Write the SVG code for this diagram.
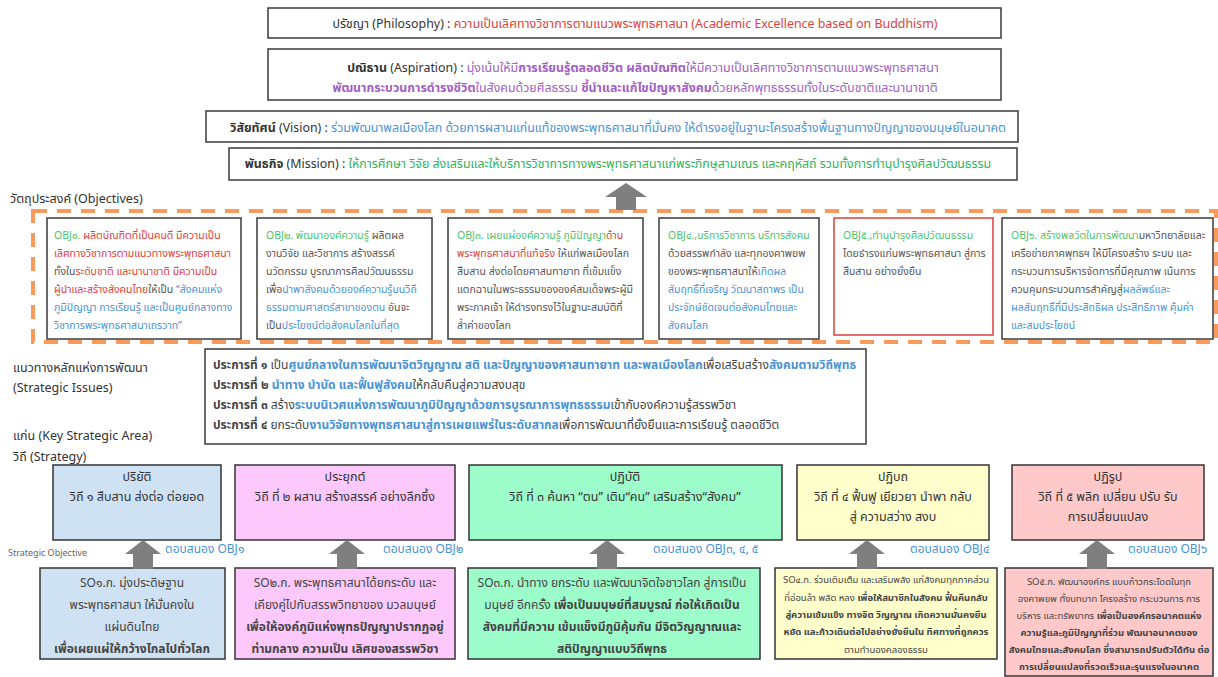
<svg xmlns="http://www.w3.org/2000/svg" xmlns:xlink="http://www.w3.org/1999/xlink" width="1218" height="677" viewBox="0 0 1218 677">
<style>
text{font-family:"Noto Sans Thai","Noto Sans Thai UI","Noto Sans","DejaVu Sans",sans-serif;}
.hd{font-size:12.4px;fill:#333}
.ob{font-size:10.5px;fill:#555}
.si{font-size:12px;fill:#444}
.lb{font-size:12.5px;fill:#333}
.st{font-size:12.5px;fill:#333}
.so{font-size:12px;fill:#444}
.sos{font-size:9.5px;fill:#444}
.bd{font-weight:bold}
.red{fill:#e2403a}
.pur{fill:#a160c4}
.blu{fill:#4a93d6}
.grn{fill:#2fb55c}
.ogr{fill:#4cc46e}
.box{fill:#fff;stroke:#3a3a3a;stroke-width:1.5}
.arr{fill:#7f7f7f}
</style>
<defs>
<path id="upA" d="M0,0 L18,14 L10,14 L10,29 L-10,29 L-10,14 L-18,14 Z"/>
<path id="upT" d="M0,0 L21,14 L10,14 L10,27 L-10,27 L-10,14 L-21,14 Z"/>
</defs>
<rect width="1218" height="677" fill="#fff"/>

<g id="philosophy">
<rect class="box" x="268" y="8" width="733" height="30"/>
<text class="hd" x="635" y="28" text-anchor="middle" font-size="12.2">ปรัชญา (Philosophy) : <tspan class="red">ความเป็นเลิศทางวิชาการตามแนวพระพุทธศาสนา (Academic Excellence  based on Buddhism)</tspan></text>
</g>

<g id="aspiration">
<rect class="box" x="268" y="49" width="733" height="51"/>
<text class="hd" x="643" y="72" text-anchor="middle" font-size="12.7"><tspan class="bd">ปณิธาน</tspan> (Aspiration) : <tspan class="pur">มุ่งเน้นให้มี</tspan><tspan class="pur bd">การเรียนรู้ตลอดชีวิต  ผลิตบัณฑิต</tspan><tspan class="pur">ให้มีความเป็นเลิศทางวิชาการตามแนวพระพุทธศาสนา</tspan></text>
<text class="hd pur" x="635" y="92" text-anchor="middle" font-size="12"><tspan class="bd">พัฒนากระบวนการดำรงชีวิต</tspan>ในสังคมด้วยศีลธรรม  <tspan class="bd">ชี้นำและแก้ไขปัญหาสังคม</tspan>ด้วยหลักพุทธธรรมทั้งในระดับชาติและนานาชาติ</text>
</g>

<g id="vision">
<rect class="box" x="206" y="111" width="812" height="31"/>
<text class="hd" x="618" y="132" text-anchor="middle"><tspan class="bd">วิสัยทัศน์</tspan> (Vision) : <tspan class="blu">ร่วมพัฒนาพลเมืองโลก ด้วยการผสานแก่นแท้ของพระพุทธศาสนาที่มั่นคง  ให้ดำรงอยู่ในฐานะโครงสร้างพื้นฐานทางปัญญาของมนุษย์ในอนาคต</tspan></text>
</g>

<g id="mission">
<rect class="box" x="229" y="148" width="788" height="32"/>
<text class="hd" x="618" y="168" text-anchor="middle" font-size="12.6"><tspan class="bd">พันธกิจ</tspan> (Mission) : <tspan class="grn">ให้การศึกษา  วิจัย  ส่งเสริมและให้บริการวิชาการทางพระพุทธศาสนาแก่พระภิกษุสามเณร  และคฤหัสถ์  รวมทั้งการทำนุบำรุงศิลปวัฒนธรรม</tspan></text>
</g>

<g id="objectives">
<text class="lb" x="10" y="203">วัตถุประสงค์ (Objectives)</text>
<rect x="33" y="211" width="1183" height="131" fill="none" stroke="#f99a5c" stroke-width="4" stroke-dasharray="14,10"/>
</g>

<g id="obj1">
<rect class="box" x="47" y="218" width="194" height="121"/>
<text class="ob" x="54" y="239"><tspan class="ogr">OBJ๑. </tspan><tspan class="red">ผลิตบัณฑิตที่เป็นคนดี มีความเป็น</tspan></text>
<text class="ob red" x="54" y="257">เลิศทางวิชาการตามแนวทางพระพุทธศาสนา</text>
<text class="ob" x="54" y="275">ทั้งใน<tspan class="red">ระดับชาติ และนานาชาติ มีความเป็น</tspan></text>
<text class="ob" x="54" y="293"><tspan class="red">ผู้นำและสร้างสังคมไทย</tspan>ให้เป็น <tspan class="blu">“สังคมแห่ง</tspan></text>
<text class="ob blu" x="54" y="311">ภูมิปัญญา การเรียนรู้ และเป็นศูนย์กลางทาง</text>
<text class="ob blu" x="54" y="329">วิชาการพระพุทธศาสนาเถรวาท”</text>
</g>

<g id="obj2">
<rect class="box" x="257" y="218" width="175" height="121"/>
<text class="ob" x="266" y="239"><tspan class="ogr">OBJ๒. พัฒนาองค์ความรู้</tspan> ผลิตผล</text>
<text class="ob" x="266" y="257">งานวิจัย และวิชาการ สร้างสรรค์</text>
<text class="ob" x="266" y="275">นวัตกรรม บูรณาการศิลปวัฒนธรรม</text>
<text class="ob" x="266" y="293">เพื่อ<tspan class="blu">นำพาสังคมด้วยองค์ความรู้บนวิถี</tspan></text>
<text class="ob" x="266" y="311"><tspan class="blu">ธรรมตามศาสตร์สาขาของตน</tspan> อันจะ</text>
<text class="ob" x="266" y="329">เป็น<tspan class="blu">ประโยชน์ต่อสังคมโลกในที่สุด</tspan></text>
</g>

<g id="obj3">
<rect class="box" x="448" y="218" width="195" height="121"/>
<text class="ob" x="457" y="239"><tspan class="ogr">OBJ๓. เผยแผ่องค์ความรู้ ภูมิปัญญา</tspan><tspan class="red">ด้าน</tspan></text>
<text class="ob" x="457" y="257"><tspan class="red">พระพุทธศาสนาที่แท้จริง</tspan> ให้แก่พลเมืองโลก</text>
<text class="ob" x="457" y="275">สืบสาน ส่งต่อโดยศาสนทายาท ที่เข้มแข็ง</text>
<text class="ob" x="457" y="293">แตกฉานในพระธรรมขององค์สมเด็จพระผู้มี</text>
<text class="ob" x="457" y="311">พระภาคเจ้า ให้ดำรงทรงไว้ในฐานะสมบัติที่</text>
<text class="ob" x="457" y="329">ล้ำค่าของโลก</text>
</g>

<g id="obj4">
<rect class="box" x="659" y="218" width="160" height="121"/>
<text class="ob ogr" x="668" y="239">OBJ๔.,บริการวิชาการ บริการสังคม</text>
<text class="ob" x="668" y="257">ด้วยสรรพกำลัง และทุกองคาพยพ</text>
<text class="ob" x="668" y="275">ของพระพุทธศาสนาให้<tspan class="blu">เกิดผล</tspan></text>
<text class="ob blu" x="668" y="293">สัมฤทธิ์ที่เจริญ วัฒนาสถาพร เป็น</text>
<text class="ob blu" x="668" y="311">ประจักษ์ชัดเจนต่อสังคมไทยและ</text>
<text class="ob blu" x="668" y="329">สังคมโลก</text>
</g>

<g id="obj5">
<rect x="834" y="218" width="159" height="117" fill="#fff" stroke="#d9403a" stroke-width="1.5"/>
<text class="ob ogr" x="843" y="239">OBJ๕.,ทำนุบำรุงศิลปวัฒนธรรม</text>
<text class="ob" x="843" y="257">โดยธำรงแก่นพระพุทธศาสนา สู่การ</text>
<text class="ob" x="843" y="275">สืบสาน อย่างยั่งยืน</text>
</g>

<g id="obj6">
<rect class="box" x="1002" y="218" width="211" height="121"/>
<text class="ob" x="1011" y="239"><tspan class="ogr">OBJ๖. สร้างพลวัตในการพัฒนา</tspan>มหาวิทยาลัยและ</text>
<text class="ob" x="1011" y="257">เครือข่ายภาคพุทธฯ ให้มีโครงสร้าง ระบบ และ</text>
<text class="ob" x="1011" y="275">กระบวนการบริหารจัดการที่มีคุณภาพ เน้นการ</text>
<text class="ob" x="1011" y="293">ควบคุมกระบวนการสำคัญสู่<tspan class="blu">ผลลัพธ์และ</tspan></text>
<text class="ob blu" x="1011" y="311">ผลสัมฤทธิ์ที่มีประสิทธิผล ประสิทธิภาพ คุ้มค่า</text>
<text class="ob blu" x="1011" y="329">และสมประโยชน์</text>
</g>

<g id="labels">
<text class="lb" x="13" y="372">แนวทางหลักแห่งการพัฒนา</text>
<text class="lb" x="13" y="392">(Strategic Issues)</text>
<text class="lb" x="13" y="440">แก่น (Key Strategic Area)</text>
<text class="lb" x="13" y="461">วิถี (Strategy)</text>
<text x="8" y="556" font-size="9" fill="#666">Strategic Objective</text>
</g>

<g id="strategic-issues">
<rect class="box" x="205" y="349" width="661" height="95" stroke="#555" stroke-width="2"/>
<text class="si" x="213" y="369"><tspan class="bd">ประการที่ ๑</tspan>  เป็น<tspan class="blu bd">ศูนย์กลางในการพัฒนาจิตวิญญาณ  สติ และปัญญาของศาสนทายาท  และพลเมืองโลก</tspan>เพื่อเสริมสร้าง<tspan class="blu bd">สังคมตามวิถีพุทธ</tspan></text>
<text class="si" x="213" y="389"><tspan class="bd">ประการที่ ๒</tspan>  <tspan class="blu bd">นำทาง  บำบัด และฟื้นฟูสังคม</tspan>ให้กลับคืนสู่ความสงบสุข</text>
<text class="si" x="213" y="409"><tspan class="bd">ประการที่ ๓</tspan>  สร้าง<tspan class="blu bd">ระบบนิเวศแห่งการพัฒนาภูมิปัญญาด้วยการบูรณาการพุทธธรรม</tspan>เข้ากับองค์ความรู้สรรพวิชา</text>
<text class="si" x="213" y="429"><tspan class="bd">ประการที่ ๔</tspan>  ยกระดับ<tspan class="blu bd">งานวิจัยทางพุทธศาสนาสู่การเผยแพร่ในระดับสากล</tspan>เพื่อการพัฒนาที่ยั่งยืนและการเรียนรู้  ตลอดชีวิต</text>
</g>

<g id="strategy1">
<rect x="53" y="465" width="168" height="75" fill="#cfe2f3" stroke="#333" stroke-width="1.5"/>
<text class="st" x="137" y="481" text-anchor="middle">ปริยัติ</text>
<text class="st" x="137" y="501" text-anchor="middle">วิถี ๑ สืบสาน ส่งต่อ ต่อยอด</text>
</g>
<g id="strategy2">
<rect x="235" y="465" width="220" height="75" fill="#fdc9fd" stroke="#333" stroke-width="1.5"/>
<text class="st" x="345" y="481" text-anchor="middle">ประยุกต์</text>
<text class="st" x="345" y="501" text-anchor="middle">วิถี ที่ ๒ ผสาน  สร้างสรรค์  อย่างลึกซึ้ง</text>
</g>
<g id="strategy3">
<rect x="469" y="465" width="313" height="75" fill="#9cfdcb" stroke="#333" stroke-width="1.5"/>
<text class="st" x="625" y="481" text-anchor="middle">ปฏิบัติ</text>
<text class="st" x="625" y="501" text-anchor="middle">วิถี ที่ ๓ ค้นหา “ตน”  เติม“คน” เสริมสร้าง“สังคม”</text>
</g>
<g id="strategy4">
<rect x="797" y="465" width="192" height="75" fill="#ffffcc" stroke="#333" stroke-width="1.5"/>
<text class="st" x="893" y="481" text-anchor="middle">ปฏิบถ</text>
<text class="st" x="893" y="501" text-anchor="middle">วิถี ที่ ๔ ฟื้นฟู  เยียวยา นำพา กลับ</text>
<text class="st" x="893" y="521" text-anchor="middle">สู่ ความสว่าง สงบ</text>
</g>
<g id="strategy5">
<rect x="1012" y="465" width="192" height="75" fill="#ffc9c9" stroke="#333" stroke-width="1.5"/>
<text class="st" x="1108" y="481" text-anchor="middle">ปฏิรูป</text>
<text class="st" x="1108" y="501" text-anchor="middle">วิถี ที่ ๕ พลิก เปลี่ยน  ปรับ  รับ</text>
<text class="st" x="1108" y="521" text-anchor="middle">การเปลี่ยนแปลง</text>
</g>

<g id="so1">
<rect x="40" y="568" width="185" height="91" fill="#cfe2f3" stroke="#333" stroke-width="1.5"/>
<text class="so" x="132" y="587" text-anchor="middle">SO๑.ก. มุ่งประดิษฐาน</text>
<text class="so" x="132" y="609" text-anchor="middle">พระพุทธศาสนา ให้มั่นคงใน</text>
<text class="so" x="132" y="631" text-anchor="middle">แผ่นดินไทย</text>
<text class="so bd" x="132" y="653" text-anchor="middle" fill="#222">เพื่อเผยแผ่ให้กว้างไกลไปทั่วโลก</text>
</g>
<g id="so2">
<rect x="235" y="568" width="220" height="91" fill="#fdc9fd" stroke="#333" stroke-width="1.5"/>
<text class="so" x="345" y="587" text-anchor="middle">SO๒.ก. พระพุทธศาสนาได้ยกระดับ  และ</text>
<text class="so" x="345" y="609" text-anchor="middle">เคียงคู่ไปกับสรรพวิทยาของ  มวลมนุษย์</text>
<text class="so bd" x="345" y="631" text-anchor="middle">เพื่อให้องค์ภูมิแห่งพุทธปัญญาปรากฏอยู่</text>
<text class="so bd" x="345" y="653" text-anchor="middle">ท่ามกลาง  ความเป็น  เลิศของสรรพวิชา</text>
</g>
<g id="so3">
<rect x="468" y="568" width="292" height="91" fill="#9cfdcb" stroke="#333" stroke-width="1.5"/>
<text class="so" x="612" y="587" text-anchor="middle">SO๓.ก. นำทาง ยกระดับ และพัฒนาจิตใจชาวโลก สู่การเป็น</text>
<text class="so" x="612" y="609" text-anchor="middle">มนุษย์ อีกครั้ง  <tspan class="bd">เพื่อเป็นมนุษย์ที่สมบูรณ์ ก่อให้เกิดเป็น</tspan></text>
<text class="so bd" x="612" y="631" text-anchor="middle">สังคมที่มีความ  เข้มแข็งมีภูมิคุ้มกัน  มีจิตวิญญาณและ</text>
<text class="so bd" x="612" y="653" text-anchor="middle">สติปัญญาแบบวิถีพุทธ</text>
</g>
<g id="so4">
<rect x="775" y="568" width="222" height="91" fill="#ffffcc" stroke="#333" stroke-width="1.5"/>
<text class="sos" x="886" y="583" text-anchor="middle">SO๔.ก. ร่วมเติมเต็ม และเสริมพลัง แก่สังคมทุกภาคส่วน</text>
<text class="sos" x="886" y="601" text-anchor="middle">ที่อ่อนล้า พลัด หลง  <tspan class="bd">เพื่อให้สมาชิกในสังคม  ฟื้นคืนกลับ</tspan></text>
<text class="sos bd" x="886" y="618" text-anchor="middle">สู่ความเข้มแข็ง ทางจิต  วิญญาณ  เกิดความมั่นคงยืน</text>
<text class="sos bd" x="886" y="635" text-anchor="middle">หยัด  และก้าวเดินต่อไปอย่างยั่งยืนใน  ทิศทางที่ถูกควร</text>
<text class="sos" x="886" y="653" text-anchor="middle">ตามทำนองคลองธรรม</text>
</g>
<g id="so5">
<rect x="1005" y="568" width="208" height="108" fill="#ffc9c9" stroke="#333" stroke-width="1.5"/>
<text class="sos" x="1109" y="585" text-anchor="middle">SO๕.ก. พัฒนาองค์กร แบบก้าวกระโดดในทุก</text>
<text class="sos" x="1109" y="602" text-anchor="middle">องคาพยพ ทั้งบทบาท โครงสร้าง กระบวนการ การ</text>
<text class="sos" x="1109" y="619" text-anchor="middle">บริหาร และทรัพยากร  <tspan class="bd">เพื่อเป็นองค์กรอนาคตแห่ง</tspan></text>
<text class="sos bd" x="1109" y="636" text-anchor="middle">ความรู้และภูมิปัญญาที่ร่วม  พัฒนาอนาคตของ</text>
<text class="sos bd" x="1109" y="653" text-anchor="middle">สังคมไทยและสังคมโลก  ซึ่งสามารถปรับตัวได้ทัน  ต่อ</text>
<text class="sos bd" x="1109" y="670" text-anchor="middle">การเปลี่ยนแปลงที่รวดเร็วและรุนแรงในอนาคต</text>
</g>

<g id="connectors">
<use xlink:href="#upT" href="#upT" x="626" y="183" class="arr"/>
<use xlink:href="#upA" href="#upA" x="143" y="540" class="arr"/>
<use xlink:href="#upA" href="#upA" x="347" y="540" class="arr"/>
<use xlink:href="#upA" href="#upA" x="607" y="540" class="arr"/>
<use xlink:href="#upA" href="#upA" x="867" y="540" class="arr"/>
<use xlink:href="#upA" href="#upA" x="1097" y="540" class="arr"/>
<text class="si blu" x="165" y="553">ตอบสนอง  OBJ๑</text>
<text class="si blu" x="383" y="553">ตอบสนอง  OBJ๒</text>
<text class="si blu" x="653" y="553">ตอบสนอง  OBJ๓, ๔, ๕</text>
<text class="si blu" x="910" y="553">ตอบสนอง  OBJ๔</text>
<text class="si blu" x="1128" y="553">ตอบสนอง  OBJ๖</text>
</g>
</svg>
